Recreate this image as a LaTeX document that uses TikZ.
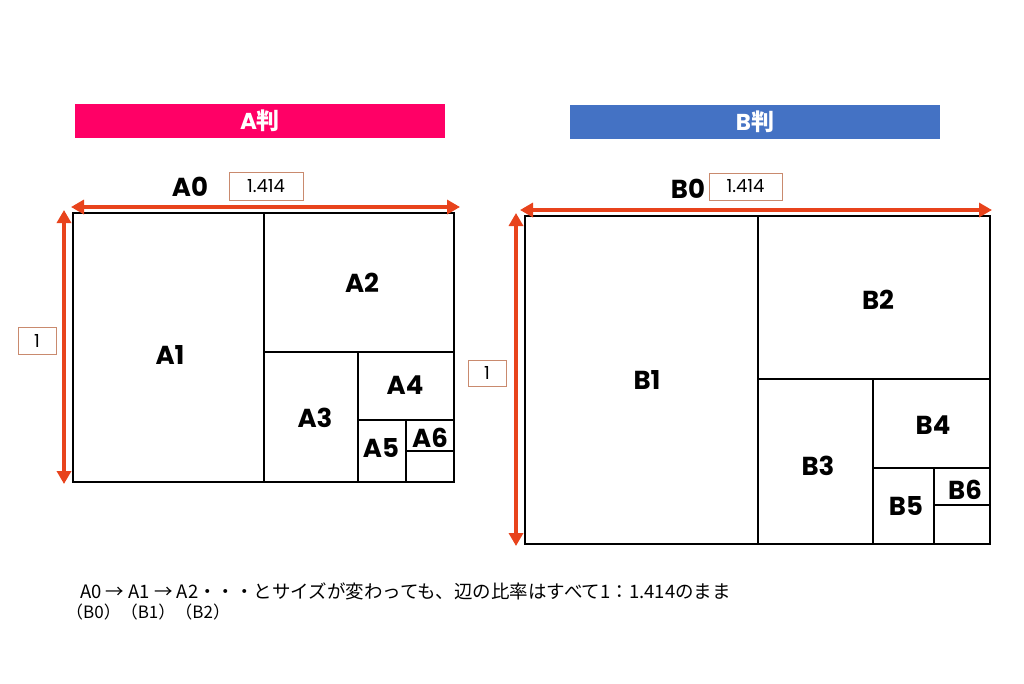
\documentclass[tikz,border=0pt]{standalone}
\usepackage{fontspec}
\setmainfont{Poppins}
\newfontfamily\jpfont{Noto Sans CJK JP}
\usetikzlibrary{arrows.meta,positioning}
\definecolor{bannerA}{HTML}{FF0066}
\definecolor{bannerB}{HTML}{4472C4}
\definecolor{dimred}{HTML}{E8431C}
\definecolor{boxline}{HTML}{C98A6E}
\tikzset{
	banner/.style={minimum width=370pt, minimum height=34pt, inner sep=0pt, text=white, font=\fontsize{23}{26}\selectfont\bfseries},
	sheetname/.style={font=\fontsize{26}{28}\selectfont\bfseries},
	sizelabel/.style={font=\fontsize{26}{28}\selectfont\bfseries},
	ratiobox/.style={draw=boxline, line width=0.8pt, inner sep=0pt, font=\fontsize{18}{20}\selectfont},
	dimarrow/.style={draw=dimred, line width=3.5pt, {Triangle[width=14pt,length=13pt]}-{Triangle[width=14pt,length=13pt]}},
	sheet/.style={line width=1.1pt}
}
\begin{document}
\begin{tikzpicture}[x=1pt,y=-1pt]
	\useasboundingbox (0,0) rectangle (1024,683);

	% banners
	\node[banner, fill=bannerA] (bannerA) at (260,121) {A{\jpfont 判}};
	\node[banner, fill=bannerB] (bannerB) at (755,121.5) {B{\jpfont 判}};

	% A series
	\node[sheetname] (nameA0) at (190,187) {A0};
	\node[ratiobox, minimum width=74pt, minimum height=28pt] (ratioA) at (266,186) {1.414};
	\node[ratiobox, minimum width=38pt, minimum height=27pt] (unitA) at (37,340.5) {1};

	\draw[sheet] (73,213) rectangle (454,482);
	\draw[sheet] (264,213) -- (264,482);
	\draw[sheet] (264,352) -- (454,352);
	\draw[sheet] (358,352) -- (358,482);
	\draw[sheet] (358,420) -- (454,420);
	\draw[sheet] (406,420) -- (406,482);
	\draw[sheet] (406,451) -- (454,451);

	\node[sizelabel] (A1) at (170,355) {A1};
	\node[sizelabel] (A2) at (362,283) {A2};
	\node[sizelabel] (A3) at (315,418) {A3};
	\node[sizelabel] (A4) at (405,385) {A4};
	\node[sizelabel] (A5) at (381,448) {A5};
	\node[sizelabel] (A6) at (430,438) {A6};

	\coordinate (A-left) at (71,207);
	\coordinate (A-right) at (460,207);
	\coordinate (A-top) at (64,210);
	\coordinate (A-bottom) at (64,484);
	\draw[dimarrow] (A-left) -- (A-right);
	\draw[dimarrow] (A-top) -- (A-bottom);

	% B series
	\node[sheetname] (nameB0) at (688,189) {B0};
	\node[ratiobox, minimum width=73pt, minimum height=27pt] (ratioB) at (745.5,186.5) {1.414};
	\node[ratiobox, minimum width=38pt, minimum height=26pt] (unitB) at (487,373) {1};

	\draw[sheet] (525,216) rectangle (990,544);
	\draw[sheet] (758,216) -- (758,544);
	\draw[sheet] (758,379) -- (990,379);
	\draw[sheet] (873,379) -- (873,544);
	\draw[sheet] (873,468) -- (990,468);
	\draw[sheet] (934,468) -- (934,544);
	\draw[sheet] (934,505) -- (990,505);

	\node[sizelabel] (B1) at (647,380) {B1};
	\node[sizelabel] (B2) at (878,300) {B2};
	\node[sizelabel] (B3) at (818,466) {B3};
	\node[sizelabel] (B4) at (933,425) {B4};
	\node[sizelabel] (B5) at (906,506) {B5};
	\node[sizelabel] (B6) at (965,490) {B6};

	\coordinate (B-left) at (520,210);
	\coordinate (B-right) at (992,210);
	\coordinate (B-top) at (516,213);
	\coordinate (B-bottom) at (516,546);
	\draw[dimarrow] (B-left) -- (B-right);
	\draw[dimarrow] (B-top) -- (B-bottom);

	% note
	\node[anchor=west, inner sep=0pt, font=\jpfont\fontsize{18.5}{22}\selectfont] (note) at (80,591) {A0 → A1 → A2・・・とサイズが変わっても、辺の比率はすべて1：1.414のまま};
	\node[anchor=west, inner sep=0pt, font=\jpfont\fontsize{17}{20}\selectfont] (noteB) at (66,612) {（B0）（B1）（B2）};
\end{tikzpicture}
\end{document}
